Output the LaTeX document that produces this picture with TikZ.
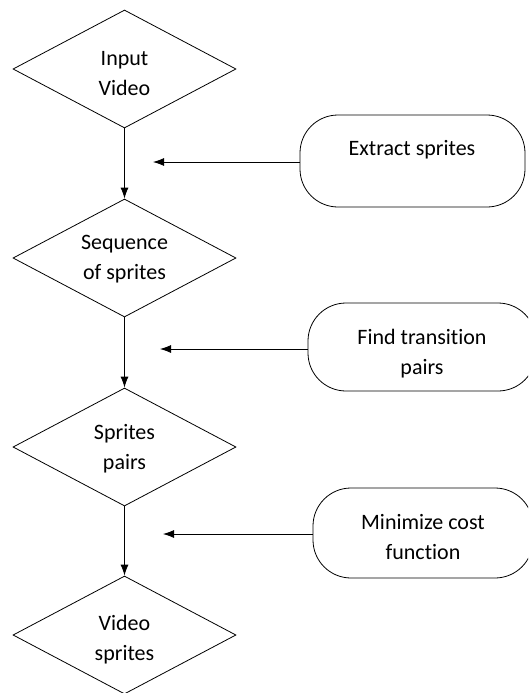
\documentclass[tikz,border=0pt]{standalone}
\usepackage{fontspec}
\setmainfont[Ligatures={NoCommon}]{Carlito}
\usetikzlibrary{shapes.geometric,arrows.meta}

\tikzset{
  decision/.style={diamond, draw, line width=0.8pt, minimum width=223pt,
    minimum height=118pt, inner sep=0pt},
  process/.style={rectangle, draw, line width=0.8pt, rounded corners=38pt},
  label text/.style={align=center, inner sep=0pt,
    font=\fontsize{22}{30}\selectfont},
  flow/.style={line width=0.8pt, -{Latex[length=11pt,width=8pt]}},
}

\begin{document}
\begin{tikzpicture}[x=1pt,y=-1pt]
  \clip (0,0) rectangle (528,693);
  \fill[white] (0,0) rectangle (528,693);

  % main column of decisions
  \node[decision] (d1) at (124.5,69)  {};
  \node[decision] (d2) at (124.5,258) {};
  \node[decision] (d3) at (124.5,447) {};
  \node[decision] (d4) at (124.5,635) {};
  \node[label text] (t1) at (124.5,74)  {Input\\Video};
  \node[label text] (t2) at (124.5,259) {Sequence\\of sprites};
  \node[label text] (t3) at (124.5,449) {Sprites\\pairs};
  \node[label text] (t4) at (124.5,640) {Video\\sprites};

  % processing steps on the right
  \node[process, minimum width=225pt, minimum height=92pt] (p1) at (412.5,161) {};
  \node[process, minimum width=228pt, minimum height=88pt] (p2) at (422,347) {};
  \node[process, minimum width=220pt, minimum height=90pt] (p3) at (423,533) {};
  \node[label text] (u1) at (412,150) {Extract sprites};
  \node[label text] (u2) at (422,354) {Find transition\\pairs};
  \node[label text] (u3) at (423,537) {Minimize cost\\function};

  % free ends of the side arrows
  \coordinate (e1) at (153,162);
  \coordinate (e2) at (160,349);
  \coordinate (e3) at (163,534);

  \draw[flow] (d1.south) -- (d2.north);
  \draw[flow] (d2.south) -- (d3.north);
  \draw[flow] (d3.south) -- (d4.north);

  \draw[flow] (p1.west |- e1) -- (e1);
  \draw[flow] (p2.west |- e2) -- (e2);
  \draw[flow] (p3.west |- e3) -- (e3);
\end{tikzpicture}
\end{document}
